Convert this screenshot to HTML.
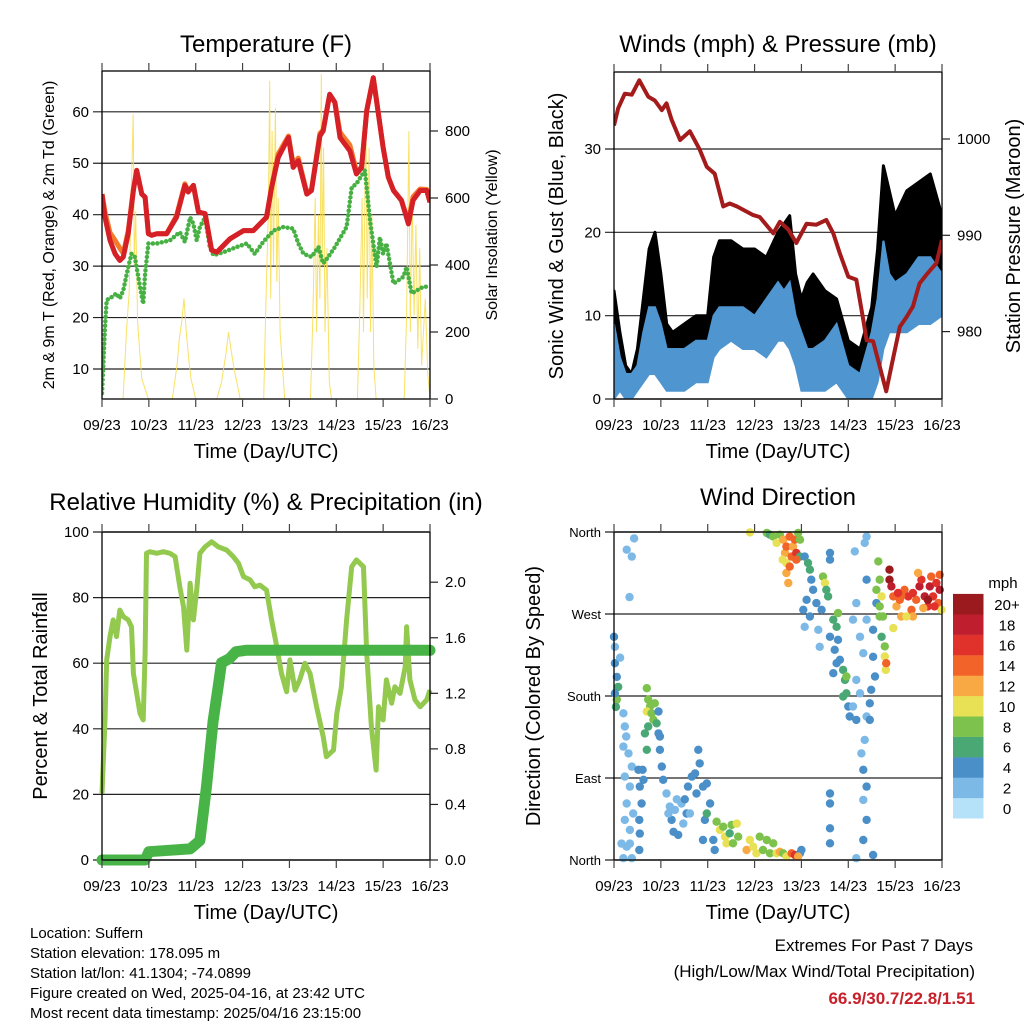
<!DOCTYPE html>
<html><head><meta charset="utf-8"><style>
html,body{margin:0;padding:0;background:#fff;}
svg{display:block;font-family:"Liberation Sans",sans-serif;}
</style></head><body>
<svg id="chart" width="1024" height="1024" viewBox="0 0 1024 1024" xmlns="http://www.w3.org/2000/svg">
<defs>
<clipPath id="c1"><rect x="102" y="71" width="328" height="328"/></clipPath>
<clipPath id="c2"><rect x="614" y="72" width="328" height="327"/></clipPath>
<clipPath id="c3"><rect x="96" y="532" width="340" height="334"/></clipPath>
<clipPath id="c4"><rect x="608" y="526" width="340" height="340"/></clipPath>
</defs>
<g id="grid"></g>
<g id="marks"></g>
<g id="axes"></g>
<text x="266" y="52" font-size="24" text-anchor="middle">Temperature (F)</text>
<text x="778" y="52" font-size="24" text-anchor="middle">Winds (mph) &amp; Pressure (mb)</text>
<text x="266" y="510" font-size="24" text-anchor="middle">Relative Humidity (%) &amp; Precipitation (in)</text>
<text x="778" y="505" font-size="24" text-anchor="middle">Wind Direction</text>
<text x="266" y="458" font-size="20" text-anchor="middle">Time (Day/UTC)</text>
<text x="778" y="458" font-size="20" text-anchor="middle">Time (Day/UTC)</text>
<text x="266" y="919" font-size="20" text-anchor="middle">Time (Day/UTC)</text>
<text x="778" y="919" font-size="20" text-anchor="middle">Time (Day/UTC)</text>
<text transform="translate(54,235) rotate(-90)" font-size="16" text-anchor="middle">2m &amp; 9m T (Red, Orange) &amp; 2m Td (Green)</text>
<text transform="translate(497,235) rotate(-90)" font-size="16" text-anchor="middle">Solar Insolation (Yellow)</text>
<text transform="translate(563,236) rotate(-90)" font-size="20" text-anchor="middle">Sonic Wind &amp; Gust (Blue, Black)</text>
<text transform="translate(1020,236) rotate(-90)" font-size="20" text-anchor="middle">Station Pressure (Maroon)</text>
<text transform="translate(47,696) rotate(-90)" font-size="20" text-anchor="middle">Percent &amp; Total Rainfall</text>
<text transform="translate(540,696) rotate(-90)" font-size="20" text-anchor="middle">Direction (Colored By Speed)</text>
<g font-size="15">
<text x="30" y="938">Location: Suffern</text>
<text x="30" y="958">Station elevation: 178.095 m</text>
<text x="30" y="978">Station lat/lon: 41.1304; -74.0899</text>
<text x="30" y="998">Figure created on Wed, 2025-04-16, at 23:42 UTC</text>
<text x="30" y="1018">Most recent data timestamp: 2025/04/16 23:15:00</text>
</g>
<text x="973" y="951" font-size="17" text-anchor="end">Extremes For Past 7 Days</text>
<text x="975" y="977" font-size="17" text-anchor="end">(High/Low/Max Wind/Total Precipitation)</text>
<text x="975" y="1004" font-size="17" font-weight="bold" fill="#c8202a" text-anchor="end">66.9/30.7/22.8/1.51</text>
<text x="1003" y="588" font-size="15" text-anchor="middle">mph</text>
<g id="cbar"></g>
</svg>
<script>
// ---------- data ----------
const dayLabels = ["09/23","10/23","11/23","12/23","13/23","14/23","15/23","16/23"];
const tempDays = [0,.064,.17,.28,.38,.455,.56,.67,.74,.85,.92,.99,1.06,1.17,1.38,1.59,1.77,1.84,1.95,2.06,2.2,2.34,2.45,2.73,3.02,3.23,3.51,3.62,3.76,3.98,4.08,4.19,4.37,4.47,4.65,4.72,4.86,4.97,5.08,5.29,5.43,5.54,5.65,5.79,5.86,6.0,6.11,6.22,6.39,6.54,6.64,6.79,6.93,7.0];
const tempRed = [44.0,39.5,35.0,32.4,31.1,31.8,36.3,44.7,48.6,44.0,43.4,36.3,36.0,36.3,36.3,39.5,45.7,44.4,45.7,40.5,40.2,33.1,32.7,35.3,36.9,36.9,39.5,45.3,51.1,55.0,49.2,50.5,44.0,44.7,55.3,56.3,63.4,61.8,55.0,52.4,47.9,49.2,60.2,66.6,62.1,53.1,47.3,44.7,42.8,38.2,42.8,44.7,44.7,42.4];
const tempOrange = [44.0,40.5,36.5,35.0,33.5,32.5,36.8,45.0,48.6,44.0,43.4,36.3,36.0,36.3,36.3,39.8,46.0,44.6,45.7,40.5,40.2,33.1,32.7,35.3,36.9,36.9,39.5,45.3,51.8,55.3,49.8,51.0,44.3,44.9,55.8,56.5,63.4,61.8,56.0,53.5,48.5,49.2,60.2,66.6,62.1,53.1,47.3,44.7,42.8,38.6,43.5,45.0,44.9,42.4];
const dewDays = [0,.064,.1,.21,.31,.38,.455,.56,.63,.7,.81,.88,.92,.99,1.17,1.45,1.66,1.77,1.88,1.95,2.02,2.09,2.2,2.3,2.38,2.59,2.87,3.09,3.26,3.44,3.66,3.87,4.08,4.19,4.3,4.47,4.62,4.72,4.83,4.97,5.22,5.33,5.43,5.61,5.72,5.86,5.93,6.0,6.07,6.22,6.43,6.5,6.61,6.86,7.0];
const dewValues = [5.3,18.2,23.4,24.0,24.7,23.7,25.3,29.8,32.4,31.8,26.0,22.7,28.5,34.4,34.4,35.0,36.6,34.7,39.5,38.2,35.0,37.6,39.5,33.7,32.1,32.7,33.7,34.4,32.4,34.7,36.9,37.6,37.3,34.4,32.4,31.8,33.7,30.5,31.8,33.7,37.6,45.3,46.0,48.6,38.9,29.8,35.6,32.4,34.4,26.6,27.9,29.8,24.7,26.0,26.0];
const solarDays = [0,.45,.52,.58,.62,.665,.69,.72,.76,.8,.85,.99,1.5,1.6,1.65,1.7,1.75,1.8,1.85,1.9,2.0,2.45,2.55,2.65,2.7,2.75,2.82,2.95,3.45,3.5,3.55,3.58,3.6,3.63,3.66,3.7,3.73,3.76,3.8,3.85,3.9,4.45,4.5,4.55,4.58,4.62,4.65,4.68,4.7,4.73,4.76,4.8,4.85,4.9,5.45,5.5,5.55,5.58,5.63,5.66,5.7,5.73,5.76,5.8,5.85,6.45,6.5,6.55,6.58,6.62,6.66,6.7,6.74,6.78,6.82,6.9,6.95,7.0];
const solarValues = [0,0,200,320,600,850,400,560,230,150,60,0,0,100,180,230,300,200,120,60,0,0,50,140,200,150,90,0,0,300,550,950,300,800,400,870,350,600,200,100,0,0,250,600,200,550,300,970,400,750,200,450,50,0,0,250,600,200,880,300,750,200,550,100,0,0,250,800,200,600,250,520,150,450,100,300,80,0];
const pressDays = [0,.09,.23,.38,.54,.73,.87,1.02,1.12,1.23,1.41,1.62,1.83,1.98,2.15,2.33,2.47,2.62,2.97,3.11,3.4,3.54,3.72,3.89,4.11,4.32,4.53,4.68,4.82,5.0,5.17,5.32,5.39,5.53,5.67,5.81,5.92,6.1,6.24,6.38,6.52,6.7,6.88,7.0];
const pressValues = [1001.4,1003.2,1004.7,1004.6,1006.1,1004.4,1004.0,1003.0,1003.7,1002.0,999.9,1000.8,998.9,997.1,996.4,993.0,993.3,993.0,992.1,991.9,990.2,991.4,990.6,989.2,991.2,991.1,991.6,990.2,988.1,985.7,985.4,981.2,979.1,979.0,976.4,973.8,976.4,980.5,981.5,982.6,985.0,986.1,987.1,989.5];
const windBinDays = [0,.125,.25,.375,.5,.625,.75,.875,1,1.125,1.25,1.5,1.75,2,2.125,2.25,2.5,2.75,3,3.25,3.5,3.625,3.75,3.875,4,4.125,4.25,4.5,4.75,5,5.25,5.5,5.625,5.75,5.875,6,6.25,6.5,6.75,7];
const windLow = [0,1,0,0,1,2,3,3,2,1,1,1,2,2,5,6,7,6,6,5,7,7,6,4,1,1,1,1,2,0,0,0,2,6,8,8,8,9,9,10];
const windHigh = [9,5,3,3,4,8,11,11,9,6,6,6,7,7,10,11,11,11,10,12,14,13,14,10,8,6,6,7,9,4,3,8,12,19,15,14,15,17,17,15];
const gustLow = [1,2,1,1,2,4,6,7,6,3,3,3,4,4,9,10,11,10,10,10,12,12,10,6,4,3,3,4,4,1,2,3,6,12,14,14,14,16,15,15];
const gustHigh = [13,8,4,3,6,12,18,20,15,9,8,9,10,10,17,19,19,18,18,17,20,21,22,15,12,14,15,13,12,7,6,11,18,28,25,22,25,26,27,22];
const rhDays = [0,.064,.1,.17,.24,.31,.38,.455,.56,.63,.67,.74,.81,.88,.92,.95,1.02,1.17,1.31,1.45,1.56,1.66,1.74,1.81,1.88,1.95,2.02,2.09,2.2,2.34,2.48,2.66,2.8,2.91,3.02,3.16,3.26,3.37,3.51,3.62,3.73,3.83,3.94,4.01,4.12,4.22,4.33,4.44,4.58,4.72,4.79,4.94,5.01,5.11,5.22,5.33,5.43,5.58,5.65,5.75,5.85,5.9,6.0,6.07,6.18,6.25,6.36,6.47,6.5,6.57,6.68,6.79,6.93,7.0];
const rhValues = [20.3,42.7,61.0,68.1,73.2,68.1,76.2,74.2,73.2,71.1,56.9,50.8,44.7,42.7,63.0,93.5,94.0,93.5,94.0,93.5,92.5,83.3,77.2,64.0,84.4,73.2,82.3,93.5,95.5,97.0,95.5,94.5,92.5,90.5,86.4,85.4,83.3,83.8,82.3,73.2,65.0,56.9,51.3,61.0,51.8,54.9,60.0,56.9,46.7,37.6,31.5,33.5,44.7,52.8,73.2,89.4,91.5,89.4,63.0,40.6,27.4,46.7,42.7,54.9,47.8,52.8,50.8,58.9,71.1,54.9,48.8,46.7,48.8,51.8];
const rainDays = [0,.92,1.0,1.88,2.09,2.23,2.37,2.48,2.55,2.72,2.86,3.07,7.0];
const rainValues = [0,0,.06,.08,.14,.53,1.0,1.25,1.42,1.45,1.50,1.51,1.51];
const dirDays = [0,.02,.02,.06,.09,.06,.13,.02,.04,
 .2,.23,.26,.2,.31,.38,.23,.34,.27,.41,.23,.34,.16,.27,.34,.2,.38,.27,.38,.43,.33,
 .52,.55,.59,.54,.55,.54,.63,.61,
 .7,.73,.77,.7,.8,.87,.84,.73,.66,.91,.95,.7,.95,.98,
 .98,1.02,1.05,1.12,1.19,1.23,1.27,1.37,1.34,1.44,1.51,1.55,1.58,1.66,1.73,1.8,1.83,1.76,1.62,1.48,1.16,1.3,
 1.9,1.98,2.05,1.94,1.9,2.12,2.15,1.98,
 2.19,2.26,2.37,2.4,2.33,2.51,2.62,2.65,2.54,2.47,
 2.83,2.9,2.97,3.04,3.11,3.18,3.26,3.33,3.4,3.47,3.54,3.61,3.68,3.79,3.86,3.97,4.0,3.93,
 2.9,3.26,3.33,3.4,3.47,3.54,3.61,3.65,3.68,3.68,3.75,3.79,3.82,3.86,3.89,3.93,3.97,3.68,3.72,3.75,3.6,3.97,3.89,
 4.07,4.14,4.18,4.21,4.25,4.11,4.04,4.07,4.18,4.32,4.36,4.39,4.46,4.5,4.53,4.57,4.61,4.61,4.43,
 4.68,4.75,4.78,4.71,4.82,4.89,4.93,4.96,4.89,5.0,4.68,4.75,4.61,4.78,4.96,
 5.1,5.17,5.25,5.32,5.17,5.1,5.25,5.39,5.35,5.28,5.32,5.39,5.32,5.39,5.32,5.17,4.61,4.61,4.61,4.61,5.53,5.39,5.35,5.14,5.39,5.53,5.57,5.49,5.46,5.53,5.6,5.6,5.64,5.39,5.46,5.17,5.03,
 5.67,5.71,5.67,5.74,5.71,5.78,5.78,5.8,5.81,5.67,
 5.88,5.88,5.92,5.96,6.03,6.1,6.13,6.2,6.28,6.35,6.38,6.45,6.52,6.56,6.63,6.7,6.74,6.77,6.81,6.88,6.92,6.95,6.99,6.95,6.49,6.38,6.13,6.06,5.96,6.24,6.6,6.7,6.84];
const dirValues = [245,234,216,201,190,176,222,183,168,
 161,146.5,135.5,124.5,117,102.5,91.5,80.6,62,51,44,33,18,14.6,18,2,2,340.6,333,353,288.6,
 99,80.6,62,44,29,11,88,99,
 188.6,176,168.5,163,161,172,154,146.5,139,150,139,121,163,135.5,
 121,102.5,88,73,58.6,44,31,27.5,66.6,62,66.6,51,80.6,91.5,95,121,106,73,51,40,51,55,
 80.6,84,62,44,22,22,11,51,
 42,33,25.6,18.3,36.6,38.5,40,25.6,18.3,29.3,
 11,22,14.6,7.3,25.6,11,22,7.3,18.3,7.3,9,7.3,3.7,7.3,5.5,7.3,11,3.7,
 359.6,358.9,357,355,348,357,351.6,337,326,344,355,333,344,351.6,337,358.9,351.6,315,304,322,329.6,333,329.6,
 333,326,318.6,307.6,296.6,285.6,274.6,256,267.3,282,252.7,234,311,304,296.6,289.3,337,329.6,274.6,
 263.7,256,241.7,230.7,219.7,208.7,197.7,183,179.4,168.5,205,216,245,271,201.4,
 263.7,282,245,227,197.7,168.5,183,157.5,131.8,117,99,80.6,66,44,22,2,73,62,34.8,18.3,5.5,355,348,338.7,263.7,223,201.4,186.8,172,252.7,282,296.6,327.7,307.6,153.8,153.8,157.5,
 307.6,289.3,278.3,267.3,245,234.4,223.4,208.7,216,267.3,
 318.6,307.6,300.3,289.3,278.3,285.6,267.3,296.6,289.3,274.6,267.3,285.6,300.3,307.6,289.3,278.3,300.3,311,289.3,304,282,296.6,274.6,313,315,293,289.3,293,254.5,267.3,276.5,285.6,278.3];
const dirSpeeds = [3,2,4,4,5,7,1,4,6,
 1,2,1,2,1,2,1,1,2,1,2,1,1,2,1,1,1,1,2,1,1,
 4,4,3,4,4,4,4,3,
 7,8,8,10,8,8,7,6,6,5,4,6,4,4,
 3,3,3,2,2,3,3,4,2,2,3,3,4,4,4,4,3,3,2,2,2,2,
 4,4,4,4,4,3,3,5,
 8,10,10,10,8,8,10,8,8,6,
 12,10,10,10,8,8,8,8,8,10,12,8,10,14,16,4,4,12,
 10,8,6,8,10,8,12,12,10,14,14,14,12,14,16,8,8,12,12,14,10,6,14,
 4,6,6,4,4,3,3,2,3,4,2,2,8,10,6,6,4,4,4,
 6,6,4,4,4,6,6,6,6,4,3,3,3,8,8,
 2,1,1,2,2,1,2,1,2,2,3,3,2,3,3,1,4,4,3,4,4,2,2,1,2,4,4,3,4,3,4,7,8,4,4,3,4,
 8,10,8,8,6,8,10,10,14,8,
 20,20,18,14,12,14,12,14,16,14,12,14,18,16,18,16,18,14,16,16,14,18,10,14,12,16,14,16,10,10,12,20,16];
const speedBins = ["0","2","4","6","8","10","12","14","16","18","20+"];
const speedColors = ["#b5e2f8","#7cb9e6","#4a8fc8","#4aa875","#7cc24d","#e8e155","#f9a943","#f26329","#e0312b","#be1e2d","#9b1a1e"];

// ---------- helpers ----------
const NS = "http://www.w3.org/2000/svg";
const gridG = document.getElementById('grid');
const marksG = document.getElementById('marks');
const axesG = document.getElementById('axes');
function mk(tag, attrs, parent){
  const e = document.createElementNS(NS, tag);
  for (const k in attrs) e.setAttribute(k, attrs[k]);
  parent.appendChild(e);
  return e;
}
function linearScale(d0,d1,r0,r1){ return v => r0 + (v-d0)/(d1-d0)*(r1-r0); }
function pathFrom(xs, ys, sx, sy){
  let d = "";
  for (let i=0;i<xs.length;i++) d += (i?"L":"M") + sx(xs[i]).toFixed(1) + "," + sy(ys[i]).toFixed(1);
  return d;
}
function bandPath(xs, lo, hi, sx, sy){
  let d = "";
  for (let i=0;i<xs.length;i++) d += (i?"L":"M") + sx(xs[i]).toFixed(1) + "," + sy(hi[i]).toFixed(1);
  for (let i=xs.length-1;i>=0;i--) d += "L" + sx(xs[i]).toFixed(1) + "," + sy(lo[i]).toFixed(1);
  return d + "Z";
}
function colorFor(s){ let i = Math.min(10, Math.max(0, Math.floor((s+1)/2))); return speedColors[i]; }

const panels = [
  {x0:102,x1:430,y0:71,y1:399,clip:"c1"},
  {x0:614,x1:942,y0:72,y1:399,clip:"c2"},
  {x0:102,x1:430,y0:532,y1:860,clip:"c3"},
  {x0:614,x1:942,y0:532,y1:860,clip:"c4"}
];
const sxs = panels.map(p => linearScale(0,7,p.x0,p.x1));

const yTemp = linearScale(10,60,369,111.8);
const ySolar = linearScale(0,800,399,131);
const yWind = linearScale(0,30,399,149);
const yPress = linearScale(1000,980,139,331.6);
const yRH = linearScale(0,100,860,532);
const yRain = linearScale(0,2,860,582.2);
const yDir = linearScale(0,360,860,532);

// ---------- grids ----------
function hgrid(p, vals, sc, name){
  vals.forEach(v => {
    const y = sc(v);
    const l = mk('line',{x1:p.x0-9,x2:p.x1,y1:y,y2:y,stroke:"#222","stroke-width":1.2}, gridG);
    
    
  });
}
hgrid(panels[0],[10,20,30,40,50,60],yTemp,'temp-gridline');
hgrid(panels[1],[0,10,20,30],yWind,'wind-gridline');
hgrid(panels[2],[0,20,40,60,80,100],yRH,'rh-gridline');
hgrid(panels[3],[0,90,180,270,360],yDir,'dir-gridline');

// ---------- panel 1 marks ----------
const m1 = mk('g',{"clip-path":"url(#c1)"}, marksG);
const solar = mk('path',{d:pathFrom(solarDays,solarValues,sxs[0],ySolar),fill:"none",stroke:"#f7dc4a","stroke-width":1,opacity:0.85}, m1);


const dew = mk('path',{d:pathFrom(dewDays,dewValues,sxs[0],yTemp),fill:"none",stroke:"#46b043","stroke-width":4.5,"stroke-linecap":"round","stroke-dasharray":"0 4.5"}, m1);


const orange = mk('path',{d:pathFrom(tempDays,tempOrange,sxs[0],yTemp),fill:"none",stroke:"#f37a2a","stroke-width":5,"stroke-linejoin":"round"}, m1);


const red = mk('path',{d:pathFrom(tempDays,tempRed,sxs[0],yTemp),fill:"none",stroke:"#d42026","stroke-width":5,"stroke-linejoin":"round"}, m1);



// ---------- panel 2 marks ----------
const m2 = mk('g',{"clip-path":"url(#c2)"}, marksG);
const gust = mk('path',{d:bandPath(windBinDays,gustLow,gustHigh,sxs[1],yWind),fill:"#000",stroke:"#000","stroke-width":3,"stroke-linejoin":"round"}, m2);


const wind = mk('path',{d:bandPath(windBinDays,windLow,windHigh,sxs[1],yWind),fill:"#4f95d0",stroke:"#4f95d0","stroke-width":2}, m2);


const press = mk('path',{d:pathFrom(pressDays,pressValues,sxs[1],yPress),fill:"none",stroke:"#a31b1b","stroke-width":4,"stroke-linejoin":"round"}, m2);



// ---------- panel 3 marks ----------
const m3 = mk('g',{"clip-path":"url(#c3)"}, marksG);
const rh = mk('path',{d:pathFrom(rhDays,rhValues,sxs[2],yRH),fill:"none",stroke:"#92c94e","stroke-width":5,"stroke-linejoin":"round"}, m3);


const rain = mk('path',{d:pathFrom(rainDays,rainValues,sxs[2],yRain),fill:"none",stroke:"#48b447","stroke-width":11,"stroke-linecap":"round","stroke-linejoin":"round"}, m3);



// ---------- panel 4 marks ----------
const m4 = mk('g',{"clip-path":"url(#c4)"}, marksG);
for (let i=0;i<dirDays.length;i++){
  const c = mk('circle',{cx:sxs[3](dirDays[i]).toFixed(1),cy:yDir(dirValues[i]).toFixed(1),r:4.2,fill:colorFor(dirSpeeds[i])}, m4);
  
  
}

// ---------- frames and ticks ----------
panels.forEach((p,pi) => {
  const f = mk('rect',{x:p.x0,y:p.y0,width:p.x1-p.x0,height:p.y1-p.y0,fill:"none",stroke:"#000","stroke-width":1.3}, axesG);
  
  
  dayLabels.forEach((lab,i) => {
    const x = sxs[pi](i);
    mk('line',{x1:x,x2:x,y1:p.y0,y2:p.y0-8,stroke:"#444","stroke-width":1.2}, axesG);
    mk('line',{x1:x,x2:x,y1:p.y1,y2:p.y1+8,stroke:"#444","stroke-width":1.2}, axesG);
    const t = mk('text',{x:x,y:p.y1+31,"font-size":15,"text-anchor":"middle"}, axesG);
    t.textContent = lab;
    
    
  });
});
function leftLabels(p, vals, sc, labels, fs){
  vals.forEach((v,i) => {
    const t = mk('text',{x:p.x0-13,y:sc(v)+5,"font-size":fs,"text-anchor":"end"}, axesG);
    t.textContent = labels[i];
    
    
  });
}
function rightLabels(p, vals, sc, labels){
  vals.forEach((v,i) => {
    const y = sc(v);
    mk('line',{x1:p.x1,x2:p.x1+8,y1:y,y2:y,stroke:"#222","stroke-width":1.2}, axesG);
    const t = mk('text',{x:p.x1+15,y:y+5,"font-size":15,"text-anchor":"start"}, axesG);
    t.textContent = labels[i];
    
    
  });
}
leftLabels(panels[0],[10,20,30,40,50,60],yTemp,["10","20","30","40","50","60"],15);
rightLabels(panels[0],[0,200,400,600,800],ySolar,["0","200","400","600","800"]);
leftLabels(panels[1],[0,10,20,30],yWind,["0","10","20","30"],15);
rightLabels(panels[1],[980,990,1000],yPress,["980","990","1000"]);
leftLabels(panels[2],[0,20,40,60,80,100],yRH,["0","20","40","60","80","100"],15);
rightLabels(panels[2],[0,0.4,0.8,1.2,1.6,2.0],yRain,["0.0","0.4","0.8","1.2","1.6","2.0"]);
leftLabels(panels[3],[0,90,180,270,360],yDir,["North","East","South","West","North"],13);

// ---------- colorbar ----------
const cb = document.getElementById('cbar');
speedBins.forEach((lab,i) => {
  const y = 818.3 - (i+1)*20.4;
  const r = mk('rect',{x:953,y:y,width:30.5,height:20.6,fill:speedColors[i]}, cb);
  
  
  const t = mk('text',{x:1007,y:y+16,"font-size":15,"text-anchor":"middle"}, cb);
  t.textContent = lab;
  
  
});
</script>
</body></html>
